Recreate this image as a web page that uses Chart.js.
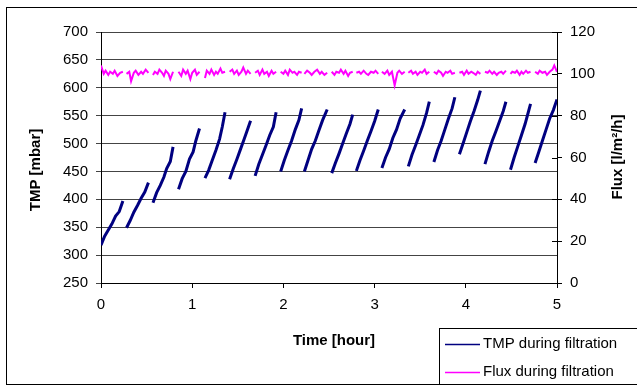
<!DOCTYPE html>
<html>
<head>
<meta charset="utf-8">
<script src="https://cdn.jsdelivr.net/npm/chart.js@4/dist/chart.umd.min.js"></script>
<style>
  html, body { margin: 0; padding: 0; background: #fff; }
  #wrap { width: 637px; height: 386px; position: relative; }
</style>
</head>
<body>
<div id="wrap"><canvas id="myChart" width="637" height="386"></canvas></div>
<script>
// TMP during filtration, one array per filtration cycle (time in hours, TMP in mbar)
var tmpTimes = [
  [0.00, 0.04, 0.08, 0.12, 0.16, 0.20, 0.24],
  [0.28, 0.32, 0.36, 0.40, 0.44, 0.48, 0.52],
  [0.57, 0.61, 0.65, 0.69, 0.72, 0.76, 0.79],
  [0.85, 0.89, 0.93, 0.97, 1.01, 1.04, 1.08],
  [1.14, 1.18, 1.22, 1.26, 1.30, 1.33, 1.36],
  [1.41, 1.45, 1.49, 1.53, 1.57, 1.60, 1.64],
  [1.69, 1.73, 1.77, 1.81, 1.85, 1.89, 1.92],
  [1.97, 2.01, 2.05, 2.09, 2.13, 2.17, 2.20],
  [2.23, 2.27, 2.31, 2.35, 2.39, 2.43, 2.48],
  [2.53, 2.57, 2.61, 2.65, 2.69, 2.73, 2.76],
  [2.80, 2.84, 2.88, 2.92, 2.96, 3.00, 3.04],
  [3.08, 3.12, 3.16, 3.20, 3.24, 3.28, 3.33],
  [3.37, 3.41, 3.45, 3.49, 3.53, 3.57, 3.60],
  [3.65, 3.69, 3.73, 3.77, 3.81, 3.85, 3.88],
  [3.93, 3.97, 4.01, 4.05, 4.09, 4.13, 4.16],
  [4.21, 4.25, 4.29, 4.33, 4.37, 4.41, 4.44],
  [4.49, 4.53, 4.57, 4.61, 4.65, 4.68, 4.71],
  [4.76, 4.80, 4.84, 4.88, 4.92, 4.96, 5.00]
];
var tmpValues = [
  [318, 334, 345, 356, 370, 378, 397],
  [349, 362, 377, 389, 402, 413, 430],
  [394, 412, 425, 440, 455, 468, 494],
  [418, 437, 450, 472, 485, 505, 527],
  [438, 452, 470, 488, 508, 530, 556],
  [436, 455, 472, 490, 508, 522, 541],
  [442, 463, 480, 497, 515, 530, 556],
  [450, 470, 488, 505, 525, 542, 563],
  [450, 470, 490, 505, 524, 542, 561],
  [447, 465, 482, 500, 518, 535, 552],
  [451, 470, 487, 505, 522, 540, 561],
  [456, 475, 490, 510, 525, 545, 561],
  [459, 480, 497, 515, 533, 555, 575],
  [467, 488, 505, 525, 545, 563, 583],
  [481, 500, 520, 540, 558, 578, 595],
  [463, 485, 505, 522, 540, 558, 575],
  [453, 475, 495, 515, 535, 553, 571],
  [465, 485, 505, 525, 545, 560, 579]
];

// Flux during filtration (l/m2/h)
var fluxTimes = [
  [0.00, 0.03, 0.05, 0.08, 0.10, 0.13, 0.15, 0.18, 0.21, 0.24],
  [0.28, 0.31, 0.33, 0.36, 0.38, 0.41, 0.44, 0.46, 0.49, 0.52],
  [0.57, 0.59, 0.62, 0.64, 0.67, 0.69, 0.71, 0.74, 0.76, 0.79],
  [0.85, 0.88, 0.90, 0.93, 0.95, 0.98, 1.00, 1.03, 1.05, 1.08],
  [1.14, 1.16, 1.19, 1.21, 1.24, 1.26, 1.28, 1.31, 1.33, 1.36],
  [1.41, 1.44, 1.46, 1.49, 1.51, 1.54, 1.56, 1.59, 1.61, 1.64],
  [1.69, 1.72, 1.74, 1.77, 1.79, 1.82, 1.84, 1.87, 1.89, 1.92],
  [1.97, 2.00, 2.02, 2.05, 2.07, 2.10, 2.12, 2.15, 2.17, 2.20],
  [2.23, 2.26, 2.29, 2.31, 2.34, 2.37, 2.40, 2.42, 2.45, 2.48],
  [2.53, 2.56, 2.58, 2.61, 2.63, 2.66, 2.68, 2.71, 2.73, 2.76],
  [2.80, 2.83, 2.85, 2.88, 2.91, 2.93, 2.96, 2.99, 3.01, 3.04],
  [3.08, 3.11, 3.14, 3.16, 3.19, 3.22, 3.25, 3.27, 3.30, 3.33],
  [3.37, 3.40, 3.42, 3.45, 3.47, 3.50, 3.52, 3.55, 3.57, 3.60],
  [3.65, 3.68, 3.70, 3.73, 3.75, 3.78, 3.80, 3.83, 3.85, 3.88],
  [3.93, 3.96, 3.98, 4.01, 4.03, 4.06, 4.08, 4.11, 4.13, 4.16],
  [4.21, 4.24, 4.26, 4.29, 4.31, 4.34, 4.36, 4.39, 4.41, 4.44],
  [4.49, 4.51, 4.54, 4.56, 4.59, 4.61, 4.63, 4.66, 4.68, 4.71],
  [4.76, 4.79, 4.81, 4.84, 4.87, 4.89, 4.92, 4.95, 4.97, 5.00]
];
var fluxValues = [
  [104, 100, 101.5, 99.5, 101, 100, 101.5, 99, 100.5, 101],
  [100, 101, 96.5, 100.5, 101.5, 99.5, 101, 100, 102, 100.5],
  [99.5, 101, 100, 102, 100.5, 99, 101.5, 100, 97.5, 101],
  [101, 99, 102, 100, 101.5, 97.5, 100.5, 102, 99.5, 101],
  [98, 101.5, 100, 102, 99.5, 101, 100, 102.5, 100.5, 101],
  [101, 102, 100, 101.5, 99.5, 101, 103, 100, 101.5, 100],
  [100.5, 101.5, 99.5, 102, 100, 101, 99, 101.5, 100, 101],
  [101, 100, 101.5, 99.5, 102, 100.5, 101, 99.5, 101, 100.5],
  [100, 101.5, 100.5, 99.5, 101, 102, 100, 101, 99.5, 100.5],
  [101, 99.5, 101, 100.5, 102, 100, 101.5, 99, 100.5, 101],
  [100.5, 101, 100, 101.5, 100, 99.5, 101, 100.5, 101.5, 100],
  [101, 100, 101.5, 99.5, 101, 94.5, 100.5, 101.5, 100, 101],
  [100.5, 101.5, 100, 101, 99.5, 101, 100.5, 102, 100, 101],
  [101, 100, 101.5, 100.5, 99, 101, 100.5, 101.5, 100, 100.5],
  [100.5, 101, 99.5, 101.5, 100, 101, 100.5, 99.5, 101, 100],
  [101, 100.5, 101.5, 100, 101, 99.5, 100.5, 101, 100, 101.5],
  [100, 101, 100.5, 101.5, 99.5, 101, 100, 101.5, 100.5, 101],
  [101, 100, 101.5, 100.5, 101, 99.5, 101, 102, 104, 101]
];

var seriesLabels = ['TMP during filtration', 'Flux during filtration'];
var xTitle = 'Time [hour]';
var yLeftTitle = 'TMP [mbar]';
var yRightTitle = 'Flux [l/m\u00B2/h]';

// join cycles into one line, with a null point between cycles so the line breaks
function toPoints(times, values) {
  var pts = [];
  for (var i = 0; i < times.length; i++) {
    if (i > 0) pts.push({ x: (times[i - 1][times[i - 1].length - 1] + times[i][0]) / 2, y: null });
    for (var j = 0; j < times[i].length; j++) pts.push({ x: times[i][j], y: values[i][j] });
  }
  return pts;
}

var FONT = '"Liberation Sans", Arial, sans-serif';

var decor = {
  id: 'decor',
  afterDraw: function (chart) {
    var c = chart.ctx;
    var yR = chart.scales.yR;
    c.save();
    // outer frame
    c.strokeStyle = '#000';
    c.lineWidth = 1;
    c.strokeRect(6.5, 7.5, 640, 377);
    // right axis ticks crossing inward
    yR.ticks.forEach(function (t, i) {
      var py = Math.round(yR.getPixelForTick(i)) + 0.5;
      c.beginPath();
      c.moveTo(yR.left - 5, py);
      c.lineTo(yR.left, py);
      c.stroke();
    });
    // axis titles
    c.fillStyle = '#000';
    c.font = 'bold 15px ' + FONT;
    c.textAlign = 'center';
    c.textBaseline = 'middle';
    c.fillText(xTitle, 334, 341);
    c.save();
    c.translate(36, 170);
    c.rotate(-Math.PI / 2);
    c.fillText(yLeftTitle, 0, 0);
    c.restore();
    c.save();
    c.translate(618, 157);
    c.rotate(-Math.PI / 2);
    c.fillText(yRightTitle, 0, 0);
    c.restore();
    // legend box
    c.fillStyle = '#fff';
    c.fillRect(439.5, 328.5, 200, 56);
    c.strokeRect(439.5, 328.5, 200, 56);
    c.font = '15px ' + FONT;
    c.textAlign = 'left';
    chart.data.datasets.forEach(function (ds, i) {
      var ly = 344 + i * 28;
      c.strokeStyle = ds.borderColor;
      c.lineWidth = 1.5;
      c.beginPath();
      c.moveTo(445, ly + 0.5);
      c.lineTo(480, ly + 0.5);
      c.stroke();
      c.fillStyle = '#000';
      c.fillText(ds.label, 483, ly);
    });
    c.restore();
  }
};

var ctx = document.getElementById('myChart').getContext('2d');
var graphData = {
  type: 'line',
  data: {
    datasets: [{
      label: seriesLabels[0],
      data: toPoints(tmpTimes, tmpValues),
      yAxisID: 'y',
      borderColor: '#000080',
      borderWidth: 3,
      pointRadius: 0,
      spanGaps: false,
      tension: 0
    }, {
      label: seriesLabels[1],
      data: toPoints(fluxTimes, fluxValues),
      yAxisID: 'yR',
      borderColor: '#ff00ff',
      borderWidth: 2,
      pointRadius: 0,
      spanGaps: false,
      tension: 0
    }]
  },
  options: {
    responsive: false,
    animation: false,
    layout: { padding: { top: 32, left: 0, right: 0, bottom: 0 } },
    plugins: { legend: { display: false }, tooltip: { enabled: false } },
    scales: {
      x: {
        type: 'linear',
        min: 0, max: 5,
        ticks: { stepSize: 1, color: '#000', font: { family: FONT, size: 15 }, padding: 8 },
        grid: { drawOnChartArea: false, tickLength: 5, color: '#000' },
        border: { color: '#000', width: 1 },
        afterFit: function (s) { s.height = 103; }
      },
      y: {
        position: 'left',
        min: 250, max: 700,
        ticks: { stepSize: 50, color: '#000', font: { family: FONT, size: 15 }, padding: 8 },
        grid: { color: '#444', tickLength: 5 },
        border: { color: '#000', width: 1 },
        afterFit: function (s) { s.width = 101; }
      },
      yR: {
        position: 'right',
        min: 0, max: 120,
        ticks: { stepSize: 20, color: '#000', font: { family: FONT, size: 15 }, padding: 8 },
        grid: { drawOnChartArea: false, tickLength: 5, color: '#000' },
        border: { color: '#000', width: 1 },
        afterFit: function (s) { s.width = 80; }
      }
    }
  },
  plugins: [decor]
};
var myChart = new Chart(ctx, graphData);
</script>
</body>
</html>
